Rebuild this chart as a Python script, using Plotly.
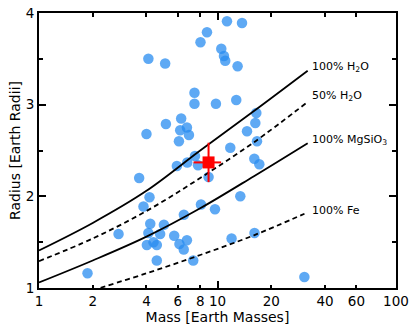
import numpy as np
import plotly.graph_objects as go

# Observed planets (mass in Earth masses, radius in Earth radii)
planet_mass = [4.10, 5.09, 8.03, 8.73, 11.30, 13.72, 10.50, 10.87, 11.05, 12.96,
               7.43, 7.43, 9.80, 12.74, 6.26, 5.14, 4.00, 6.74, 6.18, 6.92,
               6.08, 16.50, 16.29, 14.63, 16.65, 11.79, 16.08, 17.15, 7.48, 6.77,
               5.92, 7.78, 8.91, 3.64, 4.16, 3.85, 13.42, 8.08, 9.68, 6.48,
               2.79, 4.20, 5.01, 4.10, 4.77, 4.02, 4.38, 4.57, 5.72, 6.12,
               6.74, 6.47, 4.57, 7.31, 1.87, 11.99, 16.12, 30.67]
planet_radius = [3.50, 3.45, 3.68, 3.79, 3.91, 3.89, 3.61, 3.53, 3.48, 3.42,
                 3.13, 3.01, 3.01, 3.05, 2.85, 2.79, 2.68, 2.75, 2.72, 2.67,
                 2.60, 2.91, 2.80, 2.71, 2.60, 2.53, 2.41, 2.35, 2.44, 2.37,
                 2.33, 2.34, 2.21, 2.20, 1.99, 1.89, 2.00, 1.91, 1.86, 1.80,
                 1.59, 1.70, 1.69, 1.60, 1.59, 1.47, 1.50, 1.47, 1.57, 1.48,
                 1.52, 1.42, 1.30, 1.30, 1.16, 1.54, 1.60, 1.12]

# Highlighted planet
target_mass = [8.91]
target_radius = [2.37]
target_mass_err = [1.57]
target_radius_err = [0.215]

# Composition curves
curve_mass = [1, 2, 4, 8, 16, 32]
h2o_100 = [1.41, 1.71, 2.06, 2.50, 2.93, 3.37]
h2o_50 = [1.293, 1.54, 1.84, 2.20, 2.59, 3.03]
mgsio3_100 = [1.06, 1.30, 1.56, 1.87, 2.22, 2.58]
fe_mass = [1.8, 2, 4, 8, 16, 30.7]
fe_100 = [0.945, 0.975, 1.16, 1.36, 1.575, 1.81]

curve_labels = ["100% H<sub>2</sub>O", "50% H<sub>2</sub>O", "100% MgSiO<sub>3</sub>", "100% Fe"]
label_radius = [3.41, 3.09, 2.62, 1.85]

x_tickvals = [1, 2, 4, 6, 8, 10, 20, 40, 60, 100]
x_ticktext = [str(v) for v in x_tickvals]

FONT = "DejaVu Sans"

fig = go.Figure()

fig.add_trace(go.Scatter(
    x=planet_mass, y=planet_radius, mode="markers",
    marker=dict(size=10.5, color="rgba(40,140,240,0.75)", line=dict(width=0)),
    showlegend=False, hoverinfo="skip"))

line_solid = dict(color="black", width=1.8, shape="spline")
line_dash = dict(color="black", width=1.8, dash="5px,3.5px", shape="spline")

fig.add_trace(go.Scatter(x=curve_mass, y=h2o_100, mode="lines", line=line_solid, showlegend=False))
fig.add_trace(go.Scatter(x=curve_mass, y=h2o_50, mode="lines", line=line_dash, showlegend=False))
fig.add_trace(go.Scatter(x=curve_mass, y=mgsio3_100, mode="lines", line=line_solid, showlegend=False))
fig.add_trace(go.Scatter(x=fe_mass, y=fe_100, mode="lines", line=line_dash, showlegend=False))

fig.add_trace(go.Scatter(
    x=target_mass, y=target_radius, mode="markers",
    marker=dict(symbol="square", size=12, color="red", line=dict(width=0)),
    error_x=dict(type="data", array=target_mass_err, color="red", thickness=2, width=0),
    error_y=dict(type="data", array=target_radius_err, color="red", thickness=2, width=0),
    showlegend=False))

for txt, yv in zip(curve_labels, label_radius):
    fig.add_annotation(x=np.log10(32.8), y=yv, xref="x", yref="y", text=txt,
                       showarrow=False, xanchor="left", yanchor="middle",
                       font=dict(family=FONT, size=11, color="black"))

fig.update_layout(
    width=415, height=333,
    margin=dict(l=39, r=19, t=13, b=45),
    paper_bgcolor="white", plot_bgcolor="white",
    font=dict(family=FONT, color="black"),
    xaxis=dict(
        type="log", range=[0, 2], automargin=False,
        tickmode="array", tickvals=x_tickvals, ticktext=x_ticktext,
        ticks="inside", ticklen=3.5, tickwidth=1.5, tickcolor="black",
        minor=dict(tickmode="array", tickvals=[1, 10, 100], ticks="inside", ticklen=7,
                   tickwidth=1.5, tickcolor="black", showgrid=False),
        showline=True, linewidth=2, linecolor="black", mirror="ticks",
        showgrid=False, zeroline=False,
        tickfont=dict(family=FONT, size=13.5),
        title=dict(text="Mass [Earth Masses]", font=dict(family=FONT, size=14), standoff=4),
    ),
    yaxis=dict(
        range=[1, 4], tickmode="linear", tick0=1, dtick=1, automargin=False,
        ticks="inside", ticklen=7, tickwidth=1.5, tickcolor="black",
        minor=dict(dtick=0.5, tick0=1, ticks="inside", ticklen=4, tickwidth=1.5,
                   tickcolor="black", showgrid=False),
        showline=True, linewidth=2, linecolor="black", mirror="ticks",
        showgrid=False, zeroline=False,
        tickfont=dict(family=FONT, size=13.5),
        title=dict(text="Radius [Earth Radii]", font=dict(family=FONT, size=14), standoff=2),
    ),
)

fig.write_html("out.html", config={"displayModeBar": False},
               post_script="document.body.style.margin='0px';")
